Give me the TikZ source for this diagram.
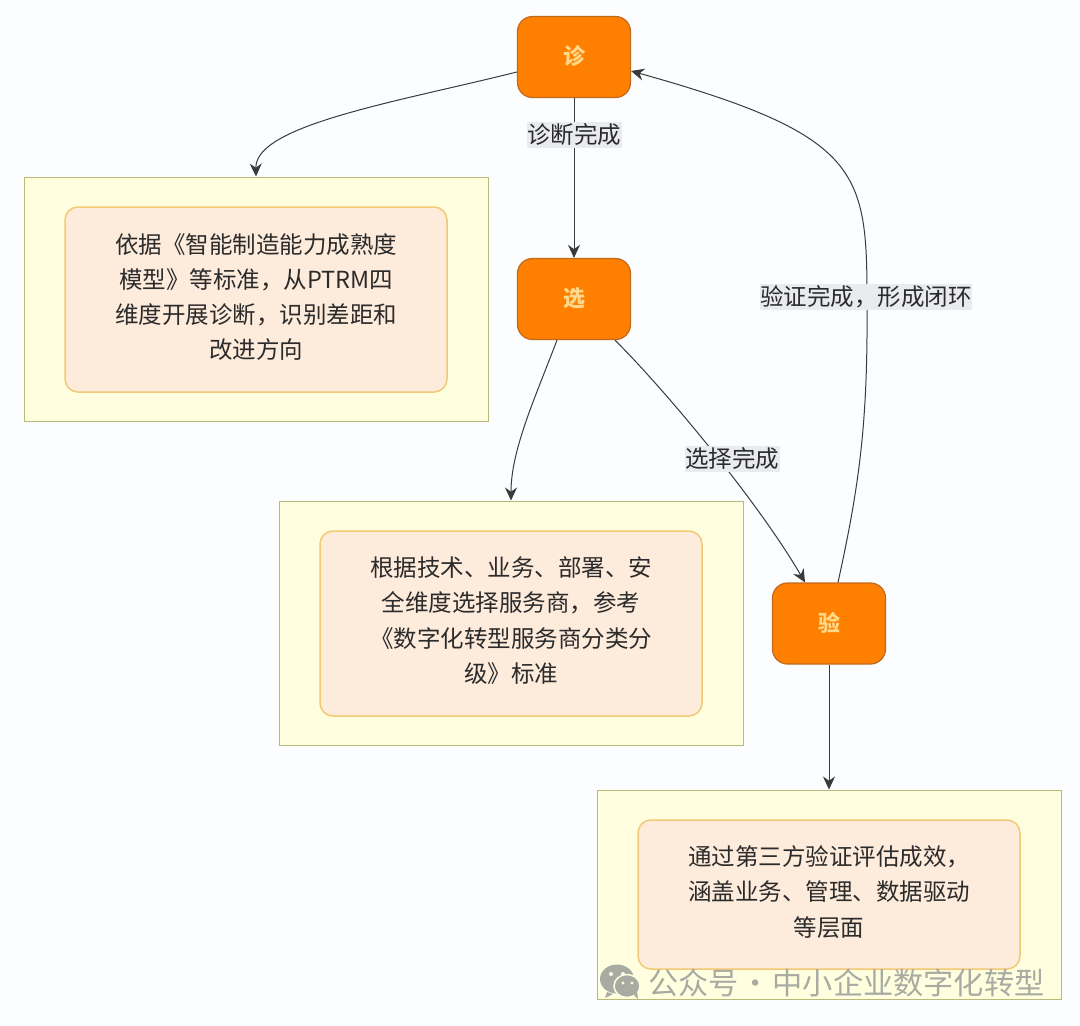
\documentclass[tikz,border=0pt]{standalone}
\usepackage{fontspec}
\setmainfont{Noto Sans CJK SC}
\usetikzlibrary{arrows.meta,calc}
\definecolor{pagebg}{HTML}{FBFDFE}
\definecolor{nodeorange}{HTML}{FF7F00}
\definecolor{nodeedge}{HTML}{C2691C}
\definecolor{nodetext}{HTML}{FFD98A}
\definecolor{outerfill}{HTML}{FFFFE0}
\definecolor{outeredge}{HTML}{B9B978}
\definecolor{innerfill}{HTML}{FDEBDC}
\definecolor{inneredge}{HTML}{F2C974}
\definecolor{inktext}{HTML}{2B2B2B}
\definecolor{edgeink}{HTML}{3A3A3A}
\definecolor{labelbg}{HTML}{E9EBEE}
\definecolor{markgrey}{HTML}{A9ABA2}
\tikzset{
 x=1pt,y=-1pt,
 phase/.style={draw=nodeedge,line width=1.2pt,fill=nodeorange,rounded corners=15pt,minimum width=113pt,minimum height=81pt,inner sep=0pt,text=nodetext,font=\bfseries\fontsize{22}{26}\selectfont},
 outerbox/.style={draw=outeredge,line width=1pt,fill=outerfill,minimum width=464pt,inner sep=0pt},
 innerbox/.style={draw=inneredge,line width=1.5pt,fill=innerfill,rounded corners=13pt,minimum width=382pt,inner sep=0pt},
 boxtext/.style={text=inktext,align=center,font=\fontsize{23.5}{35.3}\selectfont,inner sep=0pt},
 flow/.style={draw=edgeink,line width=1pt,-{Stealth[length=13pt,width=12pt]}},
 edgelabel/.style={fill=labelbg,text=inktext,inner xsep=0.5pt,inner ysep=2pt,font=\fontsize{23.5}{28}\selectfont},
 watermark/.style={text=markgrey,font=\fontsize{30.2}{34}\selectfont,inner sep=0pt},
}
\begin{document}
\begin{tikzpicture}
\path[use as bounding box,fill=pagebg] (0,0) rectangle (1080,1026);
% outer boxes
\node[outerbox,minimum height=244pt] (o1) at (256,299) {};
\node[outerbox,minimum height=244pt] (o2) at (511,623) {};
\node[outerbox,minimum height=209pt] (o3) at (829,894.5) {};
% inner boxes
\node[innerbox,minimum height=185pt] (i1) at (256,299.5) {};
\node[innerbox,minimum height=185pt] (i2) at (511,623.5) {};
\node[innerbox,minimum height=149pt] (i3) at (829,894.5) {};
\node[boxtext] (t1) at (256,297) {依据《智能制造能力成熟度\\模型》等标准，从PTRM四\\维度开展诊断，识别差距和\\改进方向};
\node[boxtext] (t2) at (511,620.5) {根据技术、业务、部署、安\\全维度选择服务商，参考\\《数字化转型服务商分类分\\级》标准};
\node[boxtext] (t3) at (829,892) {通过第三方验证评估成效，\\涵盖业务、管理、数据驱动\\等层面};
% phase nodes
\node[phase] (diag) at (574,57) {\raisebox{3.5pt}{诊}};
\node[phase] (sel) at (574,299) {\raisebox{3.5pt}{选}};
\node[phase] (ver) at (829,623.5) {\raisebox{3.5pt}{验}};
% connectors
\draw[flow] ([yshift=-15pt]diag.west) .. controls +(-120,30) and (255,125) .. (o1.north);
\draw[flow] (diag.south) -- node[edgelabel,pos=0.23] (l1) {诊断完成} (sel.north);
\draw[flow] ([xshift=-17pt]sel.south) .. controls +(-22,58) and (511,450) .. (o2.north);
\draw[flow] ([xshift=41pt]sel.south) .. controls +(55,55) and (760,505) .. ([xshift=-24pt]ver.north);
\node[edgelabel] (l2) at (732,459) {选择完成};
\draw[flow] (ver.south) -- (o3.north);
\draw[flow] ([xshift=9pt]ver.north) .. controls +(22,-100) and (868,420) .. (867,300)
  .. controls (867,170) and (860,135) .. ([yshift=-14pt]diag.east);
\node[edgelabel] (l3) at (866,297) {验证完成，形成闭环};
% watermark
\fill[markgrey] (617,979) ellipse (17pt and 14.5pt);
\fill[markgrey] (607,992) -- (605,998) -- (613,994) -- cycle;
\fill[pagebg!60!outerfill] (611,974) circle (2pt) (623,974) circle (2pt);
\draw[outerfill,line width=1.5pt,fill=markgrey] (627,986) ellipse (13pt and 11.5pt);
\fill[markgrey] (634,995) -- (638,999) -- (637,991) -- cycle;
\fill[outerfill] (623,983) circle (1.7pt) (632,983) circle (1.7pt);
\node[watermark,anchor=west] (wm) at (648,983) {公众号\makebox[34pt]{·}中小企业数字化转型};
\end{tikzpicture}
\end{document}
